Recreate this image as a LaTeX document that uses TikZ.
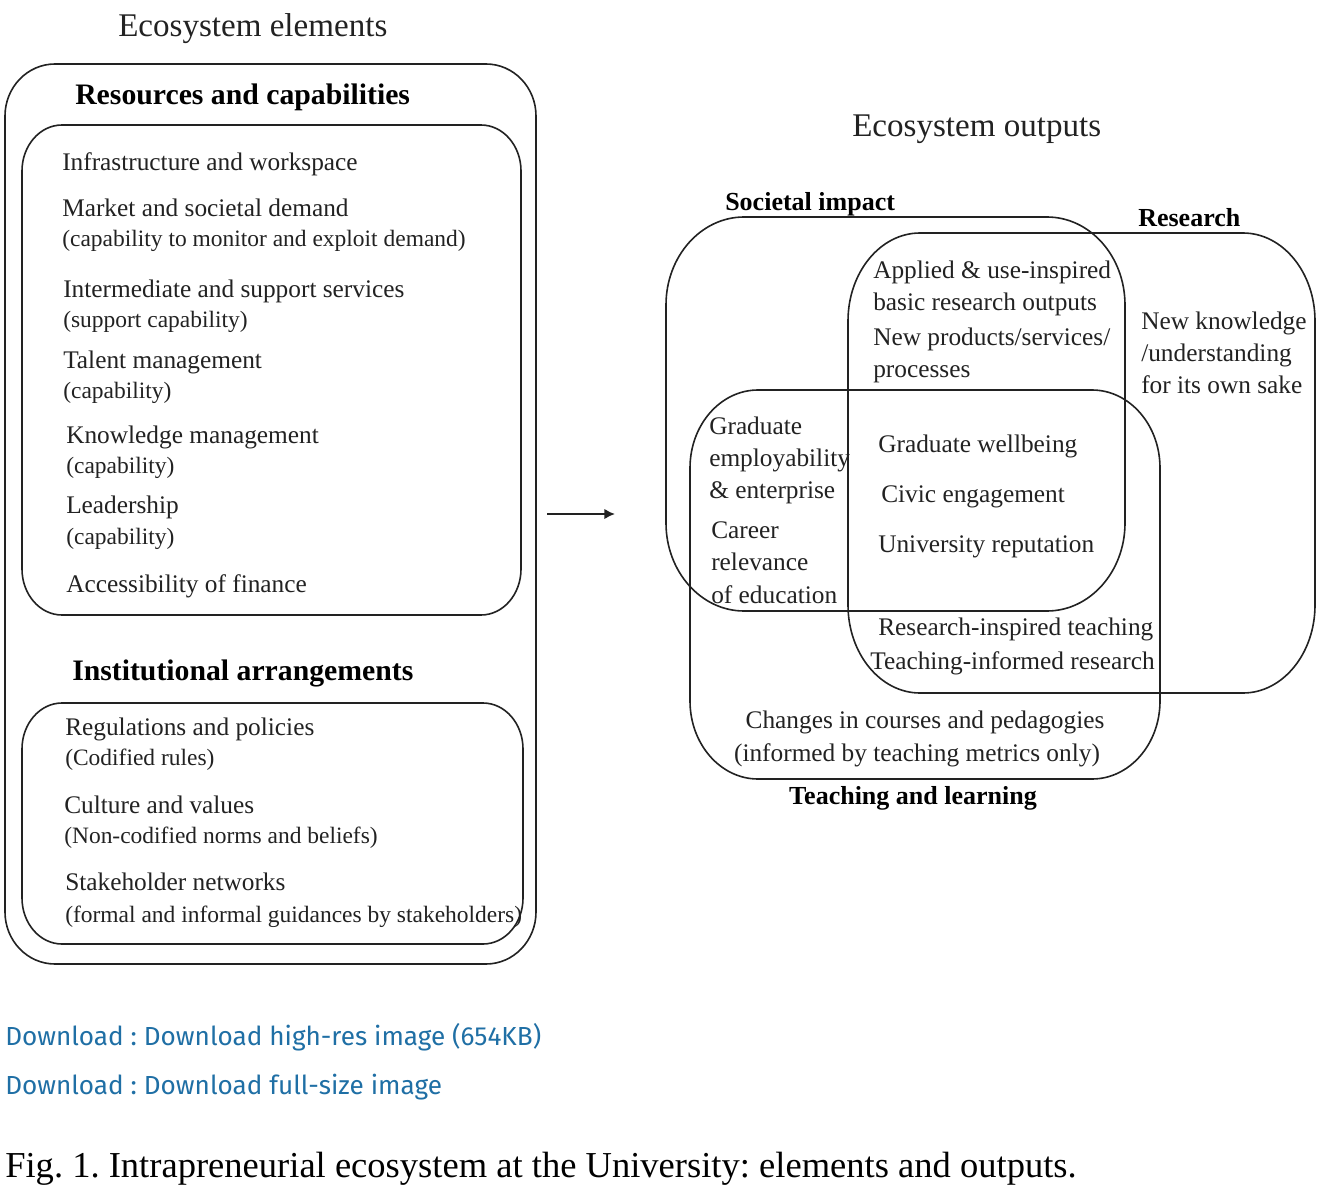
\documentclass[tikz,border=0pt]{standalone}
\usepackage{fontspec}
\setmainfont{Liberation Serif}
\newfontfamily\linkfont{Fira Sans}
\usetikzlibrary{arrows.meta}
\definecolor{linkblue}{HTML}{1F6FA5}
\definecolor{ink}{HTML}{222222}
\frenchspacing
\newcommand{\myrbox}[6]{%
  \draw[boxline] ({#1+#5},#2) -- ({#3-#5},#2)
    .. controls ({#3-0.448*#5},#2) and (#3,{#2+0.448*#6}) .. (#3,{#2+#6})
    -- (#3,{#4-#6})
    .. controls (#3,{#4-0.448*#6}) and ({#3-0.448*#5},#4) .. ({#3-#5},#4)
    -- ({#1+#5},#4)
    .. controls ({#1+0.448*#5},#4) and (#1,{#4-0.448*#6}) .. (#1,{#4-#6})
    -- (#1,{#2+#6})
    .. controls (#1,{#2+0.448*#6}) and ({#1+0.448*#5},#2) .. ({#1+#5},#2)
    -- cycle;}
\tikzset{
  boxline/.style={draw=ink, line width=1.2pt},
  txt/.style={anchor=mid west, inner sep=0pt, yshift=-3.8pt, text=ink, font=\fontsize{19}{22}\selectfont},
  ptxt/.style={anchor=mid west, inner sep=0pt, yshift=-3.6pt, text=ink, font=\fontsize{17.6}{20}\selectfont},
  ctxt/.style={anchor=mid, inner sep=0pt, yshift=-3.8pt, text=ink, font=\fontsize{19}{22}\selectfont},
  lhead/.style={anchor=mid west, inner sep=0pt, yshift=-4.5pt, text=black, font=\fontsize{22.3}{26}\selectfont\bfseries},
  rhead/.style={anchor=mid west, inner sep=0pt, yshift=-4pt, text=black, font=\fontsize{19.5}{23}\selectfont\bfseries},
  title/.style={anchor=mid west, inner sep=0pt, yshift=-5pt, text=ink, font=\fontsize{24.8}{29}\selectfont},
  linktxt/.style={anchor=mid west, inner sep=0pt, yshift=-4pt, text=linkblue, font=\linkfont\fontsize{19.6}{23}\selectfont},
  captxt/.style={anchor=mid west, inner sep=0pt, yshift=-5.5pt, text=black, font=\fontsize{27.4}{31}\selectfont},
}
\begin{document}
\begin{tikzpicture}[x=0.75pt,y=-0.75pt]
\fill[white] (0,0) rectangle (1342,1202);
\path[use as bounding box] (0,0) rectangle (1342,1202);

% ---------- Left: ecosystem elements ----------
\node[title] (eltitle) at (118,27) {Ecosystem elements};
\myrbox{5}{64}{536}{964}{50}{52}
\node[lhead] (rescap) at (75,95) {Resources and capabilities};
\myrbox{22}{125}{521}{615}{40}{46}
\node[txt]  (infra)   at (62,162) {Infrastructure and workspace};
\node[txt]  (market)  at (62,208) {Market and societal demand};
\node[ptxt] (marketc) at (62,239) {(capability to monitor and exploit demand)};
\node[txt]  (interm)  at (63,289) {Intermediate and support services};
\node[ptxt] (intermc) at (63,320) {(support capability)};
\node[txt]  (talent)  at (63,360) {Talent management};
\node[ptxt] (talentc) at (63,391) {(capability)};
\node[txt]  (knowl)   at (66,435) {Knowledge management};
\node[ptxt] (knowlc)  at (66,466) {(capability)};
\node[txt]  (lead)    at (66,505) {Leadership};
\node[ptxt] (leadc)   at (66,537) {(capability)};
\node[txt]  (finance) at (66,584) {Accessibility of finance};

\node[lhead] (instarr) at (72,671) {Institutional arrangements};
\myrbox{22}{703}{523}{944}{40}{46}
\node[txt]  (regul)   at (65,727) {Regulations and policies};
\node[ptxt] (regulc)  at (65,758) {(Codified rules)};
\node[txt]  (cult)    at (64,805) {Culture and values};
\node[ptxt] (cultc)   at (64,836) {(Non-codified norms and beliefs)};
\node[txt]  (stake)   at (65,882) {Stakeholder networks};
\node[ptxt] (stakec)  at (65,915) {(formal and informal guidances by stakeholders)};

% ---------- Arrow ----------
\coordinate (arrs) at (547,514);
\coordinate (arre) at (615,514);
\draw[ink, line width=2.2pt, -{Latex[length=8pt,width=8pt]}] (arrs) -- (arre);

% ---------- Right: ecosystem outputs ----------
\node[title] (outtitle) at (852,127) {Ecosystem outputs};
\myrbox{666}{217}{1125}{611}{78}{88}
\myrbox{848}{233}{1315}{693}{72}{88}
\myrbox{690}{390}{1160}{779}{68}{78}
\node[rhead] (socimp) at (725,202) {Societal impact};
\node[rhead] (resh)   at (1138,218) {Research};

\node[txt] (applied) at (873,270) {Applied \& use-inspired};
\node[txt] (basic)   at (873,302) {basic research outputs};
\node[txt] (newprod) at (873,337) {New products/services/};
\node[txt] (proc)    at (873,369) {processes};
\node[txt] (newk)    at (1141,321) {New knowledge};
\node[txt] (under)   at (1141,353) {/understanding};
\node[txt] (sake)    at (1141,385) {for its own sake};
\node[txt] (grad)    at (709,426) {Graduate};
\node[txt] (employ)  at (709,458) {employability};
\node[txt] (enter)   at (709,490) {\& enterprise};
\node[txt] (career)  at (711,530) {Career};
\node[txt] (relev)   at (711,562) {relevance};
\node[txt] (educ)    at (711,595) {of education};
\node[txt] (wellb)   at (878,444) {Graduate wellbeing};
\node[txt] (civic)   at (881,494) {Civic engagement};
\node[txt] (repu)    at (878,544) {University reputation};
\node[txt] (rit)     at (878,627) {Research-inspired teaching};
\node[txt] (tir)     at (870,661) {Teaching-informed research};
\node[ctxt] (changes)  at (925,720) {Changes in courses and pedagogies};
\node[ctxt] (informed) at (917,753) {(informed by teaching metrics only)};
\node[rhead, anchor=mid] (teachl) at (913,796) {Teaching and learning};

% ---------- Page text ----------
\node[linktxt] (dl1) at (5,1037) {Download : Download high-res image (654KB)};
\node[linktxt] (dl2) at (5,1086) {Download : Download full-size image};
\node[captxt] (cap) at (5,1167) {Fig. 1. Intrapreneurial ecosystem at the University: elements and outputs.};
\end{tikzpicture}
\end{document}
